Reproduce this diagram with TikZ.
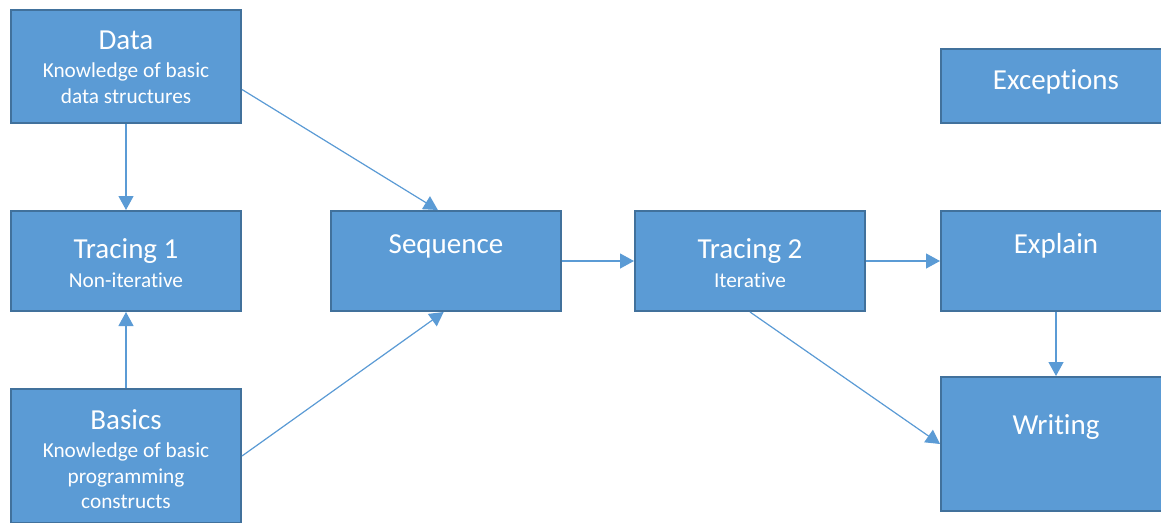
\documentclass[tikz,border=0pt]{standalone}
\usepackage{fontspec}
\setmainfont{Carlito}[Ligatures=CommonOff]
\usetikzlibrary{arrows.meta,calc}
\definecolor{boxfill}{HTML}{5B9BD5}
\definecolor{boxedge}{HTML}{41719C}
\definecolor{linkcol}{HTML}{5B9BD5}
\begin{document}
\begin{tikzpicture}[x=1pt,y=-1pt,
  stagebox/.style={rectangle,draw=boxedge,fill=boxfill,line width=2pt,
    minimum width=230pt,inner sep=0pt},
  ttl/.style={anchor=base,text=white,inner sep=0pt,font=\fontsize{29}{32}\selectfont},
  sub/.style={anchor=base,text=white,inner sep=0pt,font=\fontsize{21.3}{25.7}\selectfont},
  link/.style={draw=linkcol,line width=1.2pt,-{Triangle[length=14pt,width=15pt]},fill=linkcol}]
\useasboundingbox (0,0) rectangle (1161,522);
\clip (0,0) rectangle (1161,522);

% stage boxes
\node[stagebox,minimum height=113pt] (data)   at (126,66.5) {};
\node[stagebox,minimum height=100pt] (trace1) at (126,261) {};
\node[stagebox,minimum height=134pt] (basics) at (126,456) {};
\node[stagebox,minimum height=100pt] (seq)    at (446,261) {};
\node[stagebox,minimum height=100pt] (trace2) at (750,261) {};
\node[stagebox,minimum height=74pt]  (exc)    at (1056,86) {};
\node[stagebox,minimum height=100pt] (expl)   at (1056,261) {};
\node[stagebox,minimum height=134pt] (writ)   at (1056,444) {};

% box texts
\node[ttl] (dataT)  at (126,49)  {Data};
\node[sub] (dataS1) at (126,77)  {Knowledge of basic};
\node[sub] (dataS2) at (126,103) {data structures};

\node[ttl] (trace1T) at (126,258) {Tracing 1};
\node[sub] (trace1S) at (126,287) {Non-iterative};

\node[ttl] (basicsT)  at (126,429) {Basics};
\node[sub] (basicsS1) at (126,457) {Knowledge of basic};
\node[sub] (basicsS2) at (126,483) {programming};
\node[sub] (basicsS3) at (126,508) {constructs};

\node[ttl] (seqT) at (446,253) {Sequence};

\node[ttl] (trace2T) at (750,258) {Tracing 2};
\node[sub] (trace2S) at (750,287) {Iterative};

\node[ttl] (excT)  at (1056,89)  {Exceptions};
\node[ttl] (explT) at (1056,253) {Explain};
\node[ttl] (writT) at (1056,434) {Writing};

% connectors
\draw[link] (data.south) -- (trace1.north);
\draw[link] (basics.north) -- (trace1.south);
\draw[link] ($(data.north east)!0.7!(data.south east)$) -- ($(seq.north west)!0.465!(seq.north east)$);
\draw[link] (basics.east) -- ($(seq.south west)!0.49!(seq.south east)$);
\draw[link] (seq.east) -- (trace2.west);
\draw[link] (trace2.east) -- (expl.west);
\draw[link] (trace2.south) -- (writ.west);
\draw[link] (expl.south) -- (writ.north);
\end{tikzpicture}
\end{document}
